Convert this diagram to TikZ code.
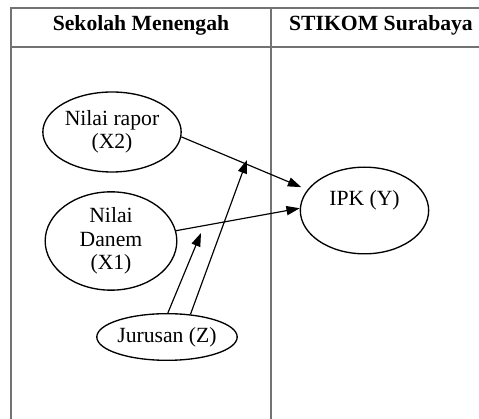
\documentclass[tikz,border=0pt]{standalone}
\usepackage{fontspec}
\setmainfont{Liberation Serif}
\usepackage{tikz}
\usetikzlibrary{positioning,arrows.meta,shapes.geometric}

\begin{document}
\begin{tikzpicture}[x=0.6pt,y=-0.6pt,
  var/.style={draw, ellipse, thick, inner sep=0pt, align=center, font=\fontsize{13}{14}\selectfont},
  head/.style={font=\fontsize{13}{15}\selectfont\bfseries},
  tabline/.style={draw=black!55, line width=1.1pt},
  path/.style={-{Triangle[length=8pt,width=5.5pt]}, line width=0.7pt}]
\useasboundingbox (0,0) rectangle (479,419);
% table
\draw[tabline] (11,419) -- (11,8) -- (479,8);
\draw[tabline] (11,47) -- (479,47);
\draw[tabline] (271,8) -- (271,419);
\node[head] (hsek) at (141,25) {Sekolah Menengah};
\node[head] (hstik) at (381,25) {STIKOM Surabaya};
% variables
\node[var, minimum width=83pt, minimum height=48pt] (rapor) at (112,132) {Nilai rapor\\(X2)};
\node[var, minimum width=79pt, minimum height=59pt] (danem) at (111,241) {Nilai\\Danem\\(X1)};
\node[var, minimum width=84pt, minimum height=28pt] (jur) at (167,337) {Jurusan (Z)};
\node[var, minimum width=77pt, minimum height=52pt,
  label={[font=\fontsize{13}{14}\selectfont, yshift=6pt]center:IPK (Y)}] (ipk) at (364.5,210.5) {};
% paths
\coordinate (m1) at (247,160);
\coordinate (m2) at (201,233);
\draw[path, shorten >=4pt] (rapor.-4) -- (ipk.160);
\draw[path] (danem.9) -- (ipk.178);
\draw[path] (jur.44) -- (m1);
\draw[path] (jur.88) -- (m2);
\end{tikzpicture}
\end{document}
